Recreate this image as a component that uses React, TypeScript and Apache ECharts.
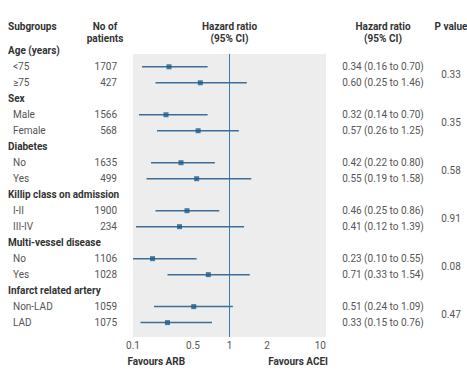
import React, { useEffect, useRef } from "react";
import * as echarts from "echarts";

// ---- data ----
const groups = [
  "Age (years)",
  "Sex",
  "Diabetes",
  "Killip class on admission",
  "Multi-vessel disease",
  "Infarct related artery",
];
const subgroups = ["<75", "≥75", "Male", "Female", "No", "Yes", "I-II", "III-IV", "No", "Yes", "Non-LAD", "LAD"];
const patients = [1707, 427, 1566, 568, 1635, 499, 1900, 234, 1106, 1028, 1059, 1075];
const hazardRatio = [0.34, 0.6, 0.32, 0.57, 0.42, 0.55, 0.46, 0.41, 0.23, 0.71, 0.51, 0.33];
const ciLow = [0.16, 0.25, 0.14, 0.26, 0.22, 0.19, 0.25, 0.12, 0.1, 0.33, 0.24, 0.15];
const ciHigh = [0.7, 1.46, 0.7, 1.25, 0.8, 1.58, 0.86, 1.39, 0.55, 1.54, 1.09, 0.76];
const pValues = ["0.33", "0.35", "0.58", "0.91", "0.08", "0.47"];
const xTicks = [0.1, 0.5, 1, 2, 10];

// ---- axis scale of the original figure (piecewise between the tick values) ----
const scaleSlots = [0, 60, 96.5, 134, 193];
function sx(v: number): number {
  for (let i = 0; i < xTicks.length - 1; i++) {
    if (v <= xTicks[i + 1] || i === xTicks.length - 2) {
      const t = (v - xTicks[i]) / (xTicks[i + 1] - xTicks[i]);
      return scaleSlots[i] + t * (scaleSlots[i + 1] - scaleSlots[i]);
    }
  }
  return 0;
}
const rowOf = (k: number) => Math.floor(k / 2) * 3 + 1 + (k % 2);
const fmt = (v: number) => v.toFixed(2);

const FONT = "Roboto";
const GRAY = "#555555";
const DARK = "#333333";

export default function App() {
  const ref = useRef<HTMLDivElement>(null);
  useEffect(() => {
    document.body.style.margin = "0";
    const chart = echarts.init(ref.current!, null, { renderer: "svg" });
    const ciData = subgroups.map((_, k) => [sx(ciLow[k]), sx(ciHigh[k]), rowOf(k)]);
    const pointData = subgroups.map((_, k) => [sx(hazardRatio[k]), rowOf(k)]);
    chart.setOption({
      animation: false,
      grid: {
        left: 133,
        right: 141,
        top: 54,
        bottom: 37,
        show: true,
        backgroundColor: "#ededed",
        borderWidth: 0,
      },
      xAxis: {
        type: "value",
        min: 0,
        max: scaleSlots[scaleSlots.length - 1],
        axisLine: { show: false },
        axisTick: { show: false },
        splitLine: { show: false },
        axisLabel: {
          customValues: xTicks.map(sx),
          formatter: (v: number) => {
            const i = xTicks.findIndex((t) => Math.abs(sx(t) - v) < 1e-6);
            return i >= 0 ? String(xTicks[i]) : "";
          },
          color: GRAY,
          fontFamily: FONT,
          fontSize: 10,
          margin: 3,
          alignMaxLabel: "right",
        },
      },
      yAxis: {
        type: "value",
        inverse: true,
        min: 0.2,
        max: 17.9,
        show: false,
      },
      series: [
        {
          type: "custom",
          data: ciData,
          encode: { x: [0, 1], y: 2 },
          renderItem: (params: any, api: any) => {
            const y = api.value(2);
            const p1 = api.coord([api.value(0), y]);
            const p2 = api.coord([api.value(1), y]);
            return {
              type: "line",
              shape: { x1: p1[0], y1: p1[1], x2: p2[0], y2: p2[1] },
              style: { stroke: "#3a6f98", lineWidth: 1.5 },
            };
          },
          z: 2,
        },
        {
          type: "scatter",
          data: pointData,
          symbol: "rect",
          symbolSize: 5,
          itemStyle: { color: "#1d5a8c" },
          z: 3,
          markLine: {
            silent: true,
            symbol: "none",
            label: { show: false },
            lineStyle: { color: "#3b78ab", width: 1, type: "solid" },
            data: [{ xAxis: sx(1) }],
          },
        },
      ],
    });

    const rowY = (i: number) => chart.convertToPixel({ yAxisIndex: 0 }, i) as number;
    const txt = (text: string, x: number, y: number, align: string, bold = false, color = GRAY) => ({
      type: "text",
      x,
      y,
      silent: true,
      style: {
        text,
        fill: bold ? DARK : color,
        font: `${bold ? "bold " : ""}10px ${FONT}`,
        align,
        verticalAlign: "middle",
        textAlign: align,
        textVerticalAlign: "middle",
      },
    });
    const els: any[] = [];
    els.push(txt("Subgroups", 8, 26, "left", true));
    els.push(txt("No of", 105, 26, "center", true));
    els.push(txt("patients", 105, 38, "center", true));
    els.push(txt("Hazard ratio", 229.5, 26, "center", true));
    els.push(txt("(95% CI)", 229.5, 38, "center", true));
    els.push(txt("Hazard ratio", 383, 26, "center", true));
    els.push(txt("(95% CI)", 383, 38, "center", true));
    els.push(txt("P value", 451, 26, "center", true));
    groups.forEach((g, gi) => {
      els.push(txt(g, 8, rowY(gi * 3), "left", true));
      const yMid = (rowY(gi * 3 + 1) + rowY(gi * 3 + 2)) / 2;
      els.push(txt(pValues[gi], 451, yMid, "center"));
    });
    subgroups.forEach((s, k) => {
      const y = rowY(rowOf(k));
      els.push(txt(s, 13, y, "left"));
      els.push(txt(String(patients[k]), 117, y, "right"));
      els.push(
        txt(`${fmt(hazardRatio[k])} (${fmt(ciLow[k])} to ${fmt(ciHigh[k])})`, 383, y, "center")
      );
    });
    els.push(txt("Favours ARB", 127.5, 361, "left", true));
    els.push(txt("Favours ACEI", 328, 361, "right", true));
    chart.setOption({ graphic: els });

    return () => chart.dispose();
  }, []);
  return <div ref={ref} style={{ width: 467, height: 374 }} />;
}
